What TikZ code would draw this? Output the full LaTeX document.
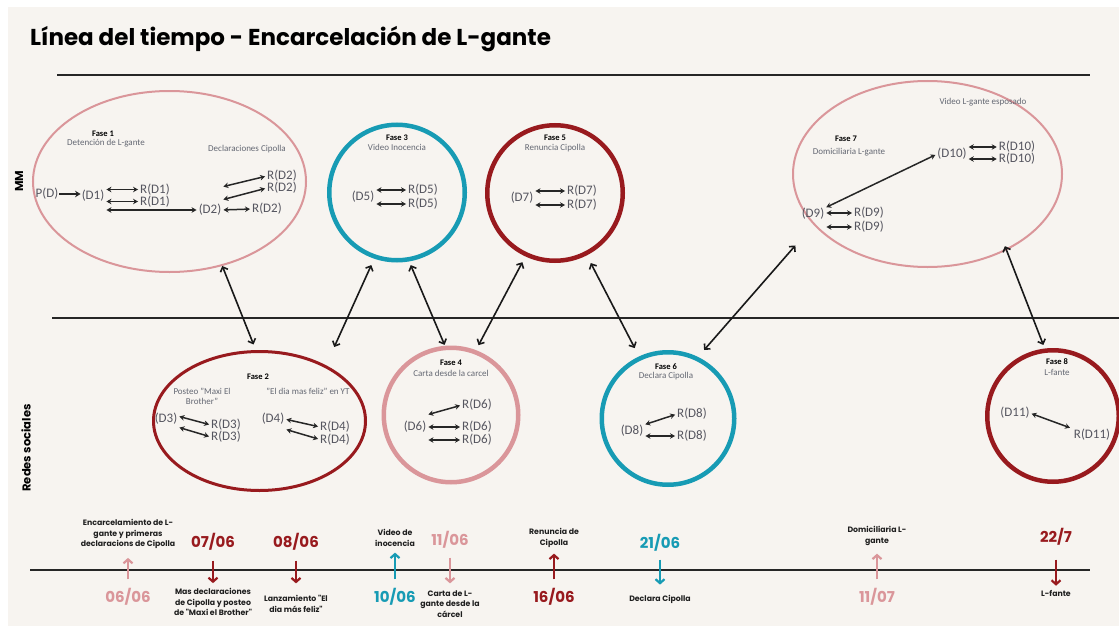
\documentclass[tikz,border=0pt]{standalone}
\usepackage{fontspec}
\setmainfont{Carlito}
\newfontfamily\pop{Poppins}
\usetikzlibrary{arrows.meta,shapes.geometric}
\definecolor{bg}{RGB}{247,244,240}
\definecolor{pinkc}{RGB}{218,150,154}
\definecolor{redc}{RGB}{152,26,30}
\definecolor{tealc}{RGB}{23,155,180}
\definecolor{txtc}{RGB}{85,85,95}
\definecolor{subc}{RGB}{100,104,115}
\begin{document}
\begin{tikzpicture}[x=1pt,y=-1pt,
  every node/.style={inner sep=0pt},
  ell/.style={draw, ellipse, inner sep=0pt},
  ring/.style={draw, circle, inner sep=0pt, line width=4.5pt},
  dt/.style={font=\fontsize{13}{14}\selectfont, text=txtc, inner sep=0pt},
  fase/.style={font=\bfseries\fontsize{8.5}{9}\selectfont, text=black},
  sub/.style={font=\fontsize{9}{10}\selectfont, text=subc, align=center},
  da/.style={{Stealth[length=5pt,width=5.5pt]}-{Stealth[length=5pt,width=5.5pt]}, line width=1.5pt, black!85, shorten <=2pt, shorten >=2pt},
  sa/.style={-{Stealth[length=5.5pt,width=6.5pt]}, line width=1.8pt, black!85, shorten <=1pt, shorten >=1pt},
  conn/.style={{Straight Barb[length=4pt,width=8pt]}-{Straight Barb[length=4pt,width=8pt]}, line width=1.6pt, black!90},
  hline/.style={line width=2.3pt, black!85},
  date/.style={font=\pop\bfseries\fontsize{15}{15}\selectfont},
  ev/.style={font=\pop\bfseries\fontsize{7.8}{10.5}\selectfont, align=center, text=black!88},
  tla/.style={-{Straight Barb[length=4pt,width=9pt]}, line width=2.2pt},
  rowlab/.style={font=\pop\bfseries\fontsize{11.5}{11.5}\selectfont, rotate=90}
]
\useasboundingbox (0,0) rectangle (1119,626);
\fill[white] (0,0) rectangle (1119,626);
\fill[bg] (8,7) rectangle (1119,626);

% title and row labels
\node[anchor=base west, font=\pop\bfseries\fontsize{23}{23}\selectfont] (title) at (30,46) {Línea del tiempo - Encarcelación de L-gante};
\node[rowlab] (mm) at (19,181) {MM};
\node[rowlab] (rs) at (26,448) {Redes sociales};

% horizontal lines
\draw[hline] (57,75) -- (1090,75);
\draw[hline] (52,318) -- (1119,318);
\draw[hline] (30,570) -- (1090,570);

% phase shapes
\node[ell, draw=pinkc, line width=2pt, minimum width=273pt, minimum height=181pt] (f1) at (169.5,181.5) {};
\node[ring, draw=tealc, minimum size=135.5pt] (f3) at (397,192.5) {};
\node[ring, draw=redc, minimum size=135.5pt] (f5) at (555,193) {};
\node[ell, draw=pinkc, line width=2pt, minimum width=269pt, minimum height=186pt] (f7) at (927.5,174) {};
\node[ell, draw=redc, line width=3pt, minimum width=212pt, minimum height=139pt] (f2) at (259.5,421) {};
\node[ring, draw=pinkc, minimum size=134.5pt] (f4) at (451,415) {};
\node[ring, draw=tealc, minimum size=132.5pt] (f6) at (668,418.5) {};
\node[ring, draw=redc, minimum size=131.5pt] (f8) at (1053,416) {};

% connectors between phases
\draw[conn, shorten >=6pt] (f1.-58) -- (f2.93);
\draw[conn, shorten <=7pt, shorten >=20pt] (f3.-109) -- (f2.40);
\draw[conn, shorten <=4pt, shorten >=1pt] (f3.-80) -- (f4.95);
\draw[conn, shorten <=6.5pt, shorten >=5.6pt] (f5.-115) -- (f4.69.5);
\draw[conn, shorten <=8.7pt, shorten >=9.4pt] (f5.-63) -- (f6.115);
\draw[conn, shorten <=27.5pt, shorten >=9.2pt] (f7.-156) -- (f6.64);
\draw[conn, shorten <=-4.5pt, shorten >=3.8pt] (f7.-44) -- (f8.97);

% Phase 1
\node[fase] (fa1) at (103,134) {Fase 1};
\node[sub] (sb1) at (106,143) {Detención de L-gante};
\node[sub] (sb1b) at (247,149) {Declaraciones Cipolla};
\node[dt] (pd) at (47,194) {P(D)};
\node[dt] (d1) at (93,196) {(D1)};
\node[dt] (rd1a) at (155,189.5) {R(D1)};
\node[dt] (rd1b) at (155,201.5) {R(D1)};
\node[dt] (d2) at (210,210) {(D2)};
\node[dt] (rd2c) at (267,209) {R(D2)};
\node[dt] (rd2a) at (282,176) {R(D2)};
\node[dt] (rd2b) at (282,188) {R(D2)};
\draw[sa] (pd.east) -- (pd.east -| d1.west);
\draw[da] (d1.east |- rd1a) -- (rd1a.west);
\draw[da] (d1.east |- rd1b) -- (rd1b.west);
\draw[da] (d1.east |- d2) -- (d2.west);
\draw[da] (d2.east) -- (rd2c.west);
\draw[da] ([yshift=23pt]d2.east) -- (rd2a.west);
\draw[da] ([yshift=10pt]d2.east) -- (rd2b.west);

% Phase 3
\node[fase] (fa3) at (397,138) {Fase 3};
\node[sub] (sb3) at (397,147) {Video Inocencia};
\node[dt] (d5) at (363,197) {(D5)};
\node[dt] (rd5a) at (423,190) {R(D5)};
\node[dt] (rd5b) at (423,204) {R(D5)};
\draw[da] (d5.east |- rd5a) -- (rd5a.west);
\draw[da] (d5.east |- rd5b) -- (rd5b.west);

% Phase 5
\node[fase] (fa5) at (555,138) {Fase 5};
\node[sub] (sb5) at (555,148) {Renuncia Cipolla};
\node[dt] (d7) at (522,198) {(D7)};
\node[dt] (rd7a) at (582,191) {R(D7)};
\node[dt] (rd7b) at (582,205) {R(D7)};
\draw[da] (d7.east |- rd7a) -- (rd7a.west);
\draw[da] (d7.east |- rd7b) -- (rd7b.west);

% Phase 7
\node[sub] (sb7b) at (983,102) {Video L-gante esposado};
\node[fase] (fa7) at (846,139) {Fase 7};
\node[sub] (sb7) at (849,152) {Domiciliaria L-gante};
\node[dt] (d10) at (952,154) {(D10)};
\node[dt] (rd10a) at (1017,147) {R(D10)};
\node[dt] (rd10b) at (1017,159) {R(D10)};
\node[dt] (d9) at (813,214) {(D9)};
\node[dt] (rd9a) at (869,213) {R(D9)};
\node[dt] (rd9b) at (869,227) {R(D9)};
\draw[da] (d10.east |- rd10a) -- (rd10a.west);
\draw[da] (d10.east |- rd10b) -- (rd10b.west);
\draw[da] (d9.east |- rd9a) -- (rd9a.west);
\draw[da] (d9.east |- rd9b) -- (rd9b.west);
\draw[da] (d9.north east) -- (d10.west);

% Phase 2
\node[fase] (fa2) at (258,377) {Fase 2};
\node[sub] (sb2) at (202,396) {Posteo "Maxi El\\Brother"};
\node[sub] (sb2b) at (308,391) {"El dia mas feliz" en YT};
\node[dt] (d3) at (166,419) {(D3)};
\node[dt] (rd3a) at (226,425) {R(D3)};
\node[dt] (rd3b) at (226,437) {R(D3)};
\draw[da] ([yshift=3pt]d3.east) -- (rd3a.west);
\draw[da] ([yshift=-8pt]d3.east) -- (rd3b.west);
\node[dt] (d4) at (273,419) {(D4)};
\node[dt] (rd4a) at (335,427) {R(D4)};
\node[dt] (rd4b) at (335,439.5) {R(D4)};
\draw[da] (d4.east) -- (rd4a.west);
\draw[da] ([yshift=-10pt]d4.east) -- (rd4b.west);

% Phase 4
\node[fase] (fa4) at (451,363) {Fase 4};
\node[sub] (sb4) at (451,373) {Carta desde la carcel};
\node[dt] (d6) at (415,427) {(D6)};
\node[dt] (rd6a) at (477,405) {R(D6)};
\node[dt] (rd6b) at (477,427) {R(D6)};
\node[dt] (rd6c) at (477,440) {R(D6)};
\draw[da] ([yshift=12pt]d6.east) -- (rd6a.west);
\draw[da] (d6.east) -- (rd6b.west);
\draw[da] (d6.east |- rd6c) -- (rd6c.west);

% Phase 6
\node[fase] (fa6) at (666,367) {Fase 6};
\node[sub] (sb6) at (666,376) {Declara Cipolla};
\node[dt] (d8) at (632,431) {(D8)};
\node[dt] (rd8a) at (692,414) {R(D8)};
\node[dt] (rd8b) at (692,436) {R(D8)};
\draw[da] ([yshift=6pt]d8.east) -- (rd8a.west);
\draw[da] (d8.east |- rd8b) -- (rd8b.west);

% Phase 8
\node[fase] (fa8) at (1057,362) {Fase 8};
\node[sub] (sb8) at (1057,372) {L-fante};
\node[dt] (d11) at (1015,413) {(D11)};
\node[dt] (rd11) at (1092,435) {R(D11)};
\draw[da, shorten >=4pt] (d11.east) -- (rd11.north west);

% timeline
\node[ev] (e1) at (128,534) {Encarcelamiento de L-\\gante y primeras\\declaracions de Cipolla};
\node[date, text=pinkc] (t1) at (128,597) {06/06};
\draw[tla, pinkc, shorten <=9pt, shorten >=9pt] (t1) -- (e1);

\node[date, text=redc] (t2) at (213,542) {07/06};
\node[ev] (e2) at (213,602) {Mas declaraciones\\de Cipolla y posteo\\de "Maxi el Brother"};
\draw[tla, redc, shorten <=10pt, shorten >=5pt] (t2) -- (e2);

\node[date, text=redc] (t3) at (296,542) {08/06};
\node[ev] (e3) at (296,604) {Lanzamiento "El\\dia más feliz"};
\draw[tla, redc, shorten <=10pt, shorten >=12pt] (t3) -- (e3);

\node[ev] (e4) at (395,538) {Video de\\inocencia};
\node[date, text=tealc] (t4) at (395,597) {10/06};
\draw[tla, tealc, shorten <=9pt, shorten >=6pt] (t4) -- (e4);

\node[date, text=pinkc] (t5) at (450,540) {11/06};
\node[ev] (e5) at (450,604) {Carta de L-\\gante desde la\\cárcel};
\draw[tla, pinkc, shorten <=9pt, shorten >=7pt] (t5) -- (e5);

\node[ev] (e6) at (554,538) {Renuncia de\\Cipolla};
\node[date, text=redc] (t6) at (554,597) {16/06};
\draw[tla, redc, shorten <=9pt, shorten >=6pt] (t6) -- (e6);

\node[date, text=tealc] (t7) at (660,543) {21/06};
\node[ev] (e7) at (660,599) {Declara Cipolla};
\draw[tla, tealc, shorten <=8pt, shorten >=10pt] (t7) -- (e7);

\node[ev] (e8) at (877,536) {Domiciliaria L-\\gante};
\node[date, text=pinkc] (t8) at (877,597) {11/07};
\draw[tla, pinkc, shorten <=9pt, shorten >=8pt] (t8) -- (e8);

\node[date, text=redc] (t9) at (1056,537) {22/7};
\node[ev] (e9) at (1056,593) {L-fante};
\draw[tla, redc, shorten <=14pt, shorten >=4pt] (t9) -- (e9);
\end{tikzpicture}
\end{document}
